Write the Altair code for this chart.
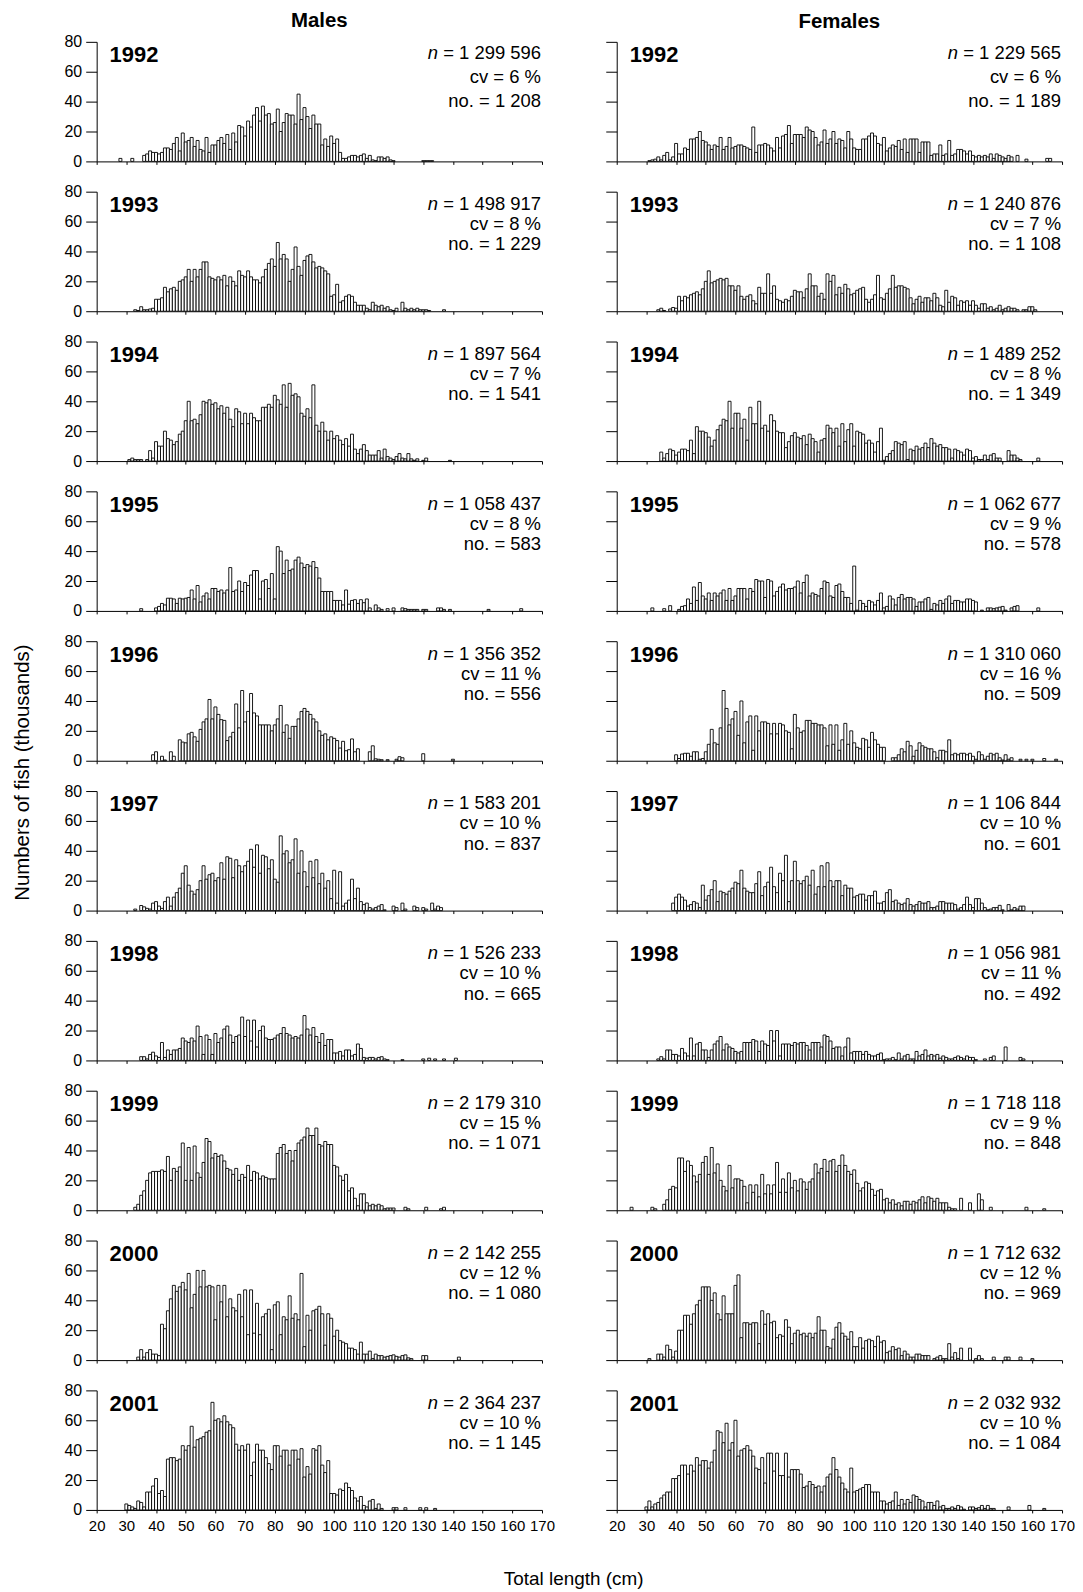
import altair as alt
import pandas as pd

FONT = "Liberation Sans"

YEARS = ["1992", "1993", "1994", "1995", "1996", "1997", "1998", "1999", "2000", "2001"]
X_TICKS = [20, 30, 40, 50, 60, 70, 80, 90, 100, 110, 120, 130, 140, 150, 160, 170]
Y_TICKS = [0, 20, 40, 60, 80]

# ---- Males: numbers of fish (thousands) per 1-cm length class, first class = M_START ----
M_START = [28, 33, 31, 35, 39, 33, 35, 33, 34, 30]
M1992 = [2, 0, 0, 0, 2, 0, 0, 0, 4, 5, 7, 6,
         6, 5, 6, 9, 9, 8, 12, 16, 7, 19,
         13, 14, 16, 10, 14, 8, 7, 16, 6, 11,
         11, 14, 16, 12, 18, 8, 19, 13, 24, 23,
         17, 27, 23, 31, 36, 27, 37, 31, 32, 25,
         26, 35, 20, 26, 32, 31, 31, 25, 45, 28,
         36, 30, 22, 31, 25, 25, 11, 15, 10, 17,
         12, 15, 6, 2, 2, 3, 4, 4, 3, 4,
         5, 2, 4, 1, 0.5, 3, 3, 2, 3, 1,
         0.5, 0, 0, 0, 0, 0, 0, 0, 0, 0,
         0.5, 0.5, 0.5, 0.5]
M1993 = [1, 0.5, 3, 1, 1, 1.5, 2,
         8, 8, 9, 16, 13, 15, 16, 14, 20, 21,
         23, 28, 20, 28, 23, 28, 33, 33, 23, 22,
         21, 23, 21, 24, 17, 23, 20, 17, 27, 24,
         23, 27, 23, 21, 21, 19, 23, 28, 32, 35,
         30, 46, 35, 38, 35, 20, 28, 43, 30, 24,
         34, 37, 38, 33, 29, 30, 29, 27, 25, 10,
         11, 18, 6, 7, 10, 11, 10, 6, 4, 4,
         4, 2, 1, 6, 4, 3, 4, 2, 3, 1,
         0.5, 2, 0, 6, 2, 1, 2, 1, 2, 1,
         1, 1, 0.5, 0, 0, 0, 0, 1]
M1994 = [1, 2, 1, 1, 1, 0, 1, 7, 2,
         13, 10, 10, 20, 15, 14, 11, 13, 18, 20,
         27, 40, 27, 28, 25, 31, 40, 39, 41, 38,
         39, 35, 37, 32, 36, 28, 23, 35, 33, 25,
         32, 25, 32, 29, 27, 27, 36, 36, 38, 36,
         44, 41, 38, 51, 36, 52, 44, 45, 43, 32,
         30, 35, 29, 51, 24, 20, 26, 20, 14, 20,
         15, 17, 14, 11, 15, 10, 18, 8, 5, 8,
         11, 7, 4, 4, 4, 7, 2, 8, 3, 2,
         1, 3, 5, 2, 1.5, 5, 1.5, 0.5, 1.5, 0,
         0.5, 2, 0, 0, 0, 0, 0, 0, 0, 0.5]
M1995 = [1.5, 0, 0, 0, 0,
         2, 3, 5, 4, 8.5, 8.5, 8, 5, 8.5, 8,
         8.5, 9, 14, 8, 17, 6, 10, 12, 8, 15,
         15, 13, 14, 12, 14, 29, 13, 14, 20, 13,
         19, 17, 24, 27, 27, 8, 20, 21, 15, 25,
         8, 43, 40, 25, 34, 27, 28, 34, 36, 32,
         29, 31, 30, 33, 29, 22, 13, 13, 13, 13,
         7, 7, 7, 4, 14, 4.5, 7, 7.5, 5, 7.5,
         5.5, 8, 2, 0, 4, 2, 1, 0, 1.5, 0,
         2, 0, 0, 2, 1.5, 1, 1, 1, 1, 0,
         1, 1, 0, 0, 0, 2, 2, 1, 0, 1,
         0, 0, 0, 0, 0, 0, 0, 0, 0, 0,
         0, 0, 1, 0, 0, 0, 0, 0, 0, 0,
         0, 0, 0, 1.5]
M1996 = [4, 6, 0, 3, 0.5, 0, 6, 3, 0, 14, 12.5,
         12, 18, 19, 16, 13, 21, 26, 28, 41, 28,
         36, 31, 27.5, 27, 13.5, 16, 19, 38, 22, 47,
         26, 33, 45, 32, 30, 24, 24, 24, 24, 20,
         24, 28, 37, 19, 24, 15, 23, 23, 28, 33,
         35, 33, 31, 28, 26, 20, 17, 18, 14, 16,
         15, 13.5, 8.5, 13, 6.7, 7.4, 14.6, 6, 8, 0,
         0, 0, 6, 10, 1.3, 1, 0.7, 0, 0.7, 0,
         0, 1, 2.7, 2, 0, 0, 0, 0, 0, 0,
         4.7, 0, 0, 0, 0, 0, 0, 0, 0, 0,
         1]
M1997 = [1, 0, 3.4, 2.5, 1.5, 1, 5,
         6, 3, 1.5, 6, 9, 3, 9, 12, 15, 25,
         30, 17, 13, 11, 14, 20, 30, 21, 24, 25,
         20, 22, 32, 21, 36, 35, 22, 34, 30, 26,
         30, 33, 41, 29, 44, 25, 37, 36, 28, 34,
         21, 19, 50, 38, 40, 32, 34, 48, 25, 40,
         26, 16, 33, 22, 34, 18, 25, 15, 20, 8,
         27, 5, 26, 3, 5, 7, 21, 8, 15, 6,
         4, 5, 2, 1, 2, 3, 4, 0.5, 0, 0,
         3, 2, 0, 5, 1, 0, 0, 3, 2, 0,
         2, 1, 0, 5, 1, 3, 2]
M1998 = [2.5, 2.5, 1, 4, 5.5,
         3, 2, 12, 2, 7, 4, 7, 7, 8, 15,
         13, 12, 15, 13, 23, 16, 4, 17, 14, 4,
         18, 12, 15, 21, 23, 17, 12, 16, 17, 29,
         16, 27, 13, 27, 9, 20, 23, 15, 14, 14,
         15, 17, 18, 22, 18, 17, 15, 16, 15, 17,
         30, 21, 17, 22, 16, 12, 18, 10, 14, 14,
         5, 5, 6, 3, 7, 7, 3, 4, 11, 8,
         2, 1.5, 2, 2, 1, 2, 2.5, 1, 0.5, 0,
         0, 0, 0, 0.5, 0, 0, 0, 0, 0, 0,
         1, 0, 1.5, 0, 1, 0, 0, 1, 0, 0,
         0, 1.5]
M1999 = [2, 4, 10, 13, 20, 25, 26,
         26, 26, 27, 26, 36, 20, 28, 26, 29, 45,
         20, 42, 20, 43, 25, 22, 32, 48, 46, 35,
         38, 36, 37, 33, 28, 27, 24, 28, 20, 24,
         22, 30, 20, 26, 25, 21, 23, 22, 21, 21,
         21, 38, 42, 44, 38, 40, 33, 40, 45, 47,
         49, 55, 50, 50, 55, 44, 43, 46, 44, 44,
         30, 29, 23, 20, 24, 13, 15, 8, 3, 11,
         11, 5, 3, 4, 3, 4, 3, 1, 1.5, 1.5,
         1.5, 0, 0, 0, 2, 1, 0, 0, 0, 0,
         0, 2, 0, 0, 0, 0, 1, 2]
M2000 = [2, 7, 2, 5, 7, 4,
         4, 3, 24, 21, 33, 41, 50, 46, 49, 52,
         47, 58, 35, 44, 60, 49, 60, 49, 50, 49,
         27, 50, 39, 50, 29, 41, 35, 33, 44, 29,
         47, 17, 47, 18, 38, 17, 29, 31, 34, 7,
         37, 39, 17, 29, 27, 43, 28, 31, 27, 58,
         9, 30, 20, 33, 34, 36, 31, 10, 31, 28,
         16, 20, 13, 12, 11, 8, 8, 7, 4, 12,
         4, 4, 6, 1, 4, 3, 3, 2, 2.5, 3,
         3.5, 2.5, 2, 3, 3.5, 1.5, 1, 0, 0, 0,
         3, 3, 0, 0, 0, 0, 0, 0, 0, 0,
         0, 0, 2]
M2001 = [4, 3, 2, 1, 6, 5, 2, 12, 12, 16,
         21, 11, 13, 9, 34, 35, 35, 33, 34, 43,
         40, 43, 56, 42, 47, 48, 49, 52, 53, 72,
         60, 61, 59, 63, 59, 57, 55, 44, 40, 43,
         40, 44, 23, 32, 44, 40, 40, 35, 31, 27,
         43, 43, 36, 40, 40, 30, 40, 40, 34, 41,
         22, 29, 24, 41, 40, 43, 30, 25, 33, 11,
         11, 10, 14, 13, 18, 15, 13, 8, 6, 9,
         3, 2, 6, 7, 1, 4, 1, 0, 0, 0,
         1.5, 1.5, 0, 0, 1.5, 0, 0, 0, 0, 1.5,
         0, 1.5, 0, 0, 1]

# ---- Females ----
F_START = [31, 34, 35, 32, 40, 39, 34, 25, 31, 30]
F1992 = [0.5, 1, 1.5, 3, 1, 4, 6, 1, 3,
         12, 5, 5, 9, 8, 15, 15, 16, 20, 14,
         13, 11, 8, 11, 10, 16, 8, 10, 16, 9,
         10, 11, 11, 10, 9, 8, 23, 6, 11, 11,
         12, 11, 9, 7, 16, 9, 17, 18, 24, 12,
         18, 18, 18, 16, 23, 21, 20, 16, 11, 13,
         21, 12, 15, 20, 12, 15, 14, 9, 20, 15,
         9, 8, 8, 15, 15, 17, 19, 17, 12, 11,
         16, 7, 9, 11, 10, 14, 8, 15, 6, 15,
         15, 15, 6, 13, 13, 13, 4, 5, 5, 11,
         4, 5, 14, 4, 5, 8, 8, 7, 5, 7,
         4, 3, 4, 3, 4, 3, 5, 2, 5, 4,
         3, 2, 4, 3, 0, 4, 0, 0, 1.5, 0,
         0, 0, 0, 0, 0, 2, 2]
F1993 = [1, 2, 0.5, 0, 1.5, 2.5,
         2, 10, 7, 10, 9, 11, 12, 13, 11, 15,
         20, 27, 19, 20, 21, 22, 21, 22, 17, 17,
         14, 17, 10, 8, 10, 11, 7, 5, 16, 12,
         12, 25, 12, 17, 8, 7, 6, 8, 7, 10,
         14, 13, 13, 9, 15, 25, 17, 17, 10, 12,
         8, 25, 20, 24, 11, 16, 12, 18, 15, 11,
         12, 14, 15, 16, 8, 6, 8, 11, 24, 9,
         8, 12, 15, 24, 16, 17, 17, 16, 15, 9,
         5, 8, 10, 6, 9, 9, 7, 12, 9, 4,
         3, 14, 6, 10, 9, 4, 7, 6, 7, 4,
         7, 4, 2, 5, 5, 2, 3, 1, 2, 4,
         1, 2, 3, 2, 2, 1, 0, 1, 1, 3,
         3, 1]
F1994 = [6, 2, 5, 8, 7,
         4, 6, 8, 8, 7, 14, 5, 23, 20, 20,
         19, 16, 10, 14, 21, 24, 28, 27, 40, 22,
         32, 32, 22, 28, 14, 36, 25, 25, 40, 22,
         24, 20, 31, 27, 20, 19, 19, 9, 13, 17,
         19, 16, 15, 17, 11, 18, 15, 13, 6, 14,
         15, 24, 22, 19, 22, 10, 25, 13, 21, 25,
         10, 20, 19, 18, 12, 14, 12, 6, 13, 22,
         0.5, 3, 5, 7, 13, 12, 11, 13, 1, 8,
         7, 10, 8, 9, 12, 9, 15, 12, 10, 11,
         9, 9, 8, 2, 8, 7, 6, 4, 8, 7,
         2, 3, 1, 1, 4, 1, 4, 5, 2, 2,
         0, 0, 7, 4, 4, 2, 1, 0, 0, 0,
         0, 0, 2]
F1995 = [2, 0, 0, 0, 1.5, 0, 3.5, 0,
         0, 1, 3, 3.5, 8, 5, 16, 7, 19, 10,
         8, 12, 7, 12, 10, 12, 14, 7, 15, 7,
         10, 15, 15, 15, 8, 15, 13, 21, 20, 20,
         9, 21, 20, 10, 13, 16, 18, 14, 15, 15,
         16, 20, 12, 19, 24, 10, 12, 11, 10, 15,
         20, 19, 10, 9, 17, 18, 13, 9, 9, 5,
         30, 0.5, 7, 5, 3, 7, 6, 4, 7, 12,
         2, 3, 10, 8, 4, 9, 11, 8, 9, 9,
         8, 3, 6, 6, 8, 9, 1, 5, 4, 7,
         5, 8, 10, 5, 7, 7, 6, 6, 8, 8,
         7, 6, 0, 0.5, 0, 2, 2, 1.5, 2, 2.5,
         3, 0.5, 0, 2, 3, 3.5, 0, 0, 0, 0,
         0, 0, 2]
F1996 = [4, 1.5, 4.5, 5, 5, 3, 6, 6, 1, 1.5,
         6, 11, 21, 12, 11, 22, 47, 35, 24, 28,
         33, 17, 40, 12, 26, 30, 7, 30, 20, 26,
         26, 25, 18, 25, 18, 25, 24, 20, 19, 8,
         31, 22, 19, 20, 27, 27, 25, 25, 24, 24,
         22, 10, 24, 11, 24, 7, 14, 25, 11, 20,
         12, 9, 8, 15, 14, 9, 19, 14, 11, 9,
         9, 0, 0, 2, 2, 4, 8, 6, 13, 10,
         3, 7, 12, 10, 9, 8, 8, 6, 2, 7,
         7, 6, 14, 4, 5, 4, 5, 5, 4, 5,
         3, 1, 6, 4, 1, 3, 5, 4, 5, 2,
         0.5, 4, 1, 2, 0, 0, 1, 0, 1, 0,
         1, 0, 0, 0, 1.5, 0, 0, 0, 1]
F1997 = [5, 9, 11, 9, 7, 3, 4, 6, 5, 2, 17,
         7, 10, 14, 20, 6, 13, 12, 11, 13, 15,
         19, 18, 27, 15, 13, 12, 12, 18, 26, 10,
         16, 19, 29, 16, 12, 25, 20, 37, 6, 20,
         33, 20, 18, 20, 23, 17, 27, 11, 16, 30,
         16, 32, 20, 16, 20, 20, 10, 17, 15, 15,
         9, 10, 11, 11, 7, 10, 10, 13, 5, 5,
         6, 12, 14, 6, 7, 5, 4, 5, 8, 4,
         3, 4, 6, 5, 5, 6, 2, 2, 3, 6,
         6, 5, 5, 5, 4, 1, 2, 4, 9, 4,
         2, 8, 8, 5, 2, 0.5, 1, 2, 2, 3.5,
         0.5, 0, 4, 0.5, 2, 1, 3, 3]
F1998 = [1, 2.5, 1, 7, 7, 4, 4, 3, 8, 5,
         3, 15, 3, 11, 12, 7, 7, 2, 7, 11,
         13, 16, 7, 11, 9, 8, 6, 5, 6, 12,
         12, 12, 14, 13, 6, 13, 11, 10, 20, 13,
         20, 3, 11, 11, 11, 10, 12, 11, 12, 12,
         10, 7, 12, 12, 12, 9, 17, 16, 13, 8,
         9, 9, 3, 9, 15, 5, 6, 6, 6, 4,
         6, 4, 3, 3, 4, 5, 0.5, 1, 1, 2,
         0.5, 5, 1, 3, 4, 1, 1, 6, 3, 4,
         7, 3, 4, 3, 4, 1.5, 3, 2, 1, 1,
         2, 3, 2, 1, 3, 2, 2, 0.5, 0, 0,
         1, 0, 2, 3, 0, 0, 0, 9, 0, 0,
         0, 0, 2, 1]
F1999 = [2, 0, 0, 0, 0,
         0, 0, 2, 1, 0, 0, 4, 7, 14, 16,
         15, 35, 35, 26, 33, 30, 23, 19, 24, 32,
         36, 24, 42, 25, 31, 20, 16, 13, 30, 15,
         21, 21, 20, 16, 5, 17, 12, 17, 9, 24,
         11, 17, 11, 17, 32, 12, 21, 12, 25, 15,
         20, 13, 21, 19, 14, 19, 21, 31, 25, 28,
         34, 26, 33, 34, 26, 30, 37, 30, 26, 24,
         27, 18, 13, 15, 19, 18, 14, 10, 13, 14,
         7, 8, 5, 7, 4, 5, 3, 6, 6, 4,
         6, 5, 7, 9, 5, 9, 8, 6, 8, 5,
         5, 5, 2, 1, 1, 0, 8, 0, 0, 5,
         0, 0, 11, 7, 0, 0, 2, 0, 0, 0,
         0, 0, 0, 0, 0, 0, 0, 0, 2, 0,
         0, 0, 0, 0, 1]
F2000 = [1, 0, 0, 4, 4, 2, 10, 7, 2,
         6, 20, 20, 30, 30, 24, 31, 37, 40, 49,
         49, 49, 40, 45, 31, 27, 43, 31, 31, 31,
         50, 57, 15, 25, 25, 24, 25, 25, 11, 33,
         24, 31, 25, 26, 15, 17, 16, 27, 22, 11,
         18, 20, 17, 18, 16, 18, 15, 18, 29, 20,
         20, 9, 8, 14, 22, 25, 18, 16, 14, 19,
         9, 9, 15, 8, 13, 14, 13, 9, 16, 12,
         13, 5, 6, 9, 7, 8, 3, 6, 4, 2,
         2, 4, 4, 3, 3, 3, 0, 1, 2, 3,
         1, 1, 11, 2, 5, 1, 8, 0, 0, 8,
         0, 1, 3, 1, 0, 0, 0, 2, 0, 0,
         0, 2, 2, 0, 0, 0, 2, 0, 0, 0,
         1]
F2001 = [2, 6, 2, 4, 5, 8, 10, 12, 12, 21,
         21, 23, 30, 30, 24, 30, 26, 35, 30, 33,
         33, 28, 32, 40, 53, 52, 45, 58, 40, 45,
         60, 36, 40, 41, 43, 40, 36, 28, 27, 35,
         18, 38, 38, 26, 38, 23, 23, 38, 22, 27,
         27, 27, 24, 15, 16, 19, 17, 15, 16, 12,
         16, 22, 24, 35, 27, 22, 18, 14, 12, 28,
         12, 13, 14, 15, 17, 17, 12, 12, 12, 6,
         6, 4, 5, 6, 12, 3, 7, 4, 7, 5,
         10, 9, 7, 6, 2, 5, 5, 3, 6, 2,
         3, 1, 1, 2, 1, 3, 2, 0.5, 0, 2,
         2, 1, 1.5, 3, 1, 3, 1, 1, 0, 0,
         0, 0, 2, 0, 0, 0, 0, 0, 0, 3,
         0, 0, 0, 0, 1]

MALES = [M1992, M1993, M1994, M1995, M1996, M1997, M1998, M1999, M2000, M2001]
FEMALES = [F1992, F1993, F1994, F1995, F1996, F1997, F1998, F1999, F2000, F2001]

# ---- annotation texts ----
M_N = ["1 299 596", "1 498 917", "1 897 564", "1 058 437", "1 356 352",
       "1 583 201", "1 526 233", "2 179 310", "2 142 255", "2 364 237"]
M_CV = ["6", "8", "7", "8", "11", "10", "10", "15", "12", "10"]
M_NO = ["1 208", "1 229", "1 541", "583", "556", "837", "665", "1 071", "1 080", "1 145"]
F_N = ["1 229 565", "1 240 876", "1 489 252", "1 062 677", "1 310 060",
       "1 106 844", "1 056 981", "1 718 118", "1 712 632", "2 032 932"]
F_CV = ["6", "7", "8", "9", "16", "10", "11", "9", "12", "10"]
F_NO = ["1 189", "1 108", "1 349", "578", "509", "601", "492", "848", "969", "1 084"]

# ---- layout / style ----
W = 447
H = 120
ANN = 18.5
YEAR_SIZE = 22
TICK_LABEL = 16

CHAR_W = {' ': 278, '=': 584, '%': 889, '.': 278, 'c': 500, 'v': 500, 'n': 556, 'o': 556}


def text_w(s, size):
    return sum(CHAR_W.get(ch, 556) for ch in s) * size / 1000.0


ONE = pd.DataFrame({"k": [0]})


def txt(s, x, y, align="right", weight="normal", style="normal", size=ANN):
    return alt.Chart(ONE).mark_text(
        text=s, align=align, baseline="alphabetic", font=FONT, fontSize=size,
        fontWeight=weight, fontStyle=style, color="black"
    ).encode(x=alt.value(x), y=alt.value(y))


def panel(sex, i):
    start = (M_START if sex == "M" else F_START)[i]
    vals = (MALES if sex == "M" else FEMALES)[i]
    df = pd.DataFrame({
        "lo": [start + k - 0.5 for k in range(len(vals))],
        "hi": [start + k + 0.5 for k in range(len(vals))],
        "v": vals,
    })
    df = df[df["v"] > 0].copy()
    df["base"] = 0
    left = sex == "M"
    bottom = i == 9

    xax = alt.Axis(values=X_TICKS, labels=bottom, title=None, tickSize=3, labelFlush=False,
                   labelOverlap=False, labelPadding=6, grid=False, labelFontSize=TICK_LABEL - 1)
    yax = alt.Axis(values=Y_TICKS, labels=left, title=None, tickSize=11, grid=False,
                   labelPadding=4, labelFontSize=TICK_LABEL)
    bars = alt.Chart(df).mark_rect(fill="white", stroke="black", strokeWidth=0.9).encode(
        x=alt.X("lo:Q", scale=alt.Scale(domain=[20, 170], nice=False, zero=False), axis=xax),
        x2="hi:Q",
        y=alt.Y("v:Q", scale=alt.Scale(domain=[0, 80], nice=False), axis=yax),
        y2="base:Q",
    )

    n_txt = (M_N if left else F_N)[i]
    cv_txt = (M_CV if left else F_CV)[i]
    no_txt = (M_NO if left else F_NO)[i]
    if i == 0:
        l1, l2, l3 = 17.6, 41.6, 65.6
    else:
        l1, l2, l3 = 18.5, 38.5, 59.0
    right = W - 1
    rest = "= " + n_txt
    layers = [
        bars,
        txt(YEARS[i], 13, 20.5, align="left", weight="bold", size=YEAR_SIZE),
        txt("n", right - text_w(" " + rest, ANN), l1, style="italic"),
        txt(rest, right, l1),
        txt("cv = " + cv_txt + " %", right, l2),
        txt("no. = " + no_txt, right, l3),
    ]
    ch = alt.layer(*layers).properties(width=W, height=H)
    if i == 0:
        ch = ch.properties(title=alt.TitleParams(
            "Males" if left else "Females", fontSize=20.5, fontWeight="bold", font=FONT,
            anchor="middle", frame="group", offset=2 if left else 9, color="black"))
    return ch


panels = []
for i in range(10):
    panels.append(panel("M", i))
    panels.append(panel("F", i))

grid = alt.concat(*panels, columns=2, spacing={"row": 30.4, "column": 75}, bounds="flush").properties(
    title=alt.TitleParams("Numbers of fish (thousands)", orient="left", anchor="middle",
                          fontSize=20.5, fontWeight="normal", font=FONT, offset=30.7, color="black")
)

chart = alt.vconcat(grid).properties(
    title=alt.TitleParams("Total length (cm)", orient="bottom", anchor="middle",
                          fontSize=19, fontWeight="normal", font=FONT, offset=36, dx=30,
                          color="black"),
    padding={"left": 5, "top": 0, "right": 0, "bottom": 0},
    background="white",
).configure_view(stroke=None).configure_axis(
    domainColor="black", tickColor="black", labelColor="black", labelFont=FONT,
    domainWidth=1, tickWidth=1
).configure_title(font=FONT, color="black")

chart.save("out.html", embed_options={"renderer": "svg", "actions": False})
